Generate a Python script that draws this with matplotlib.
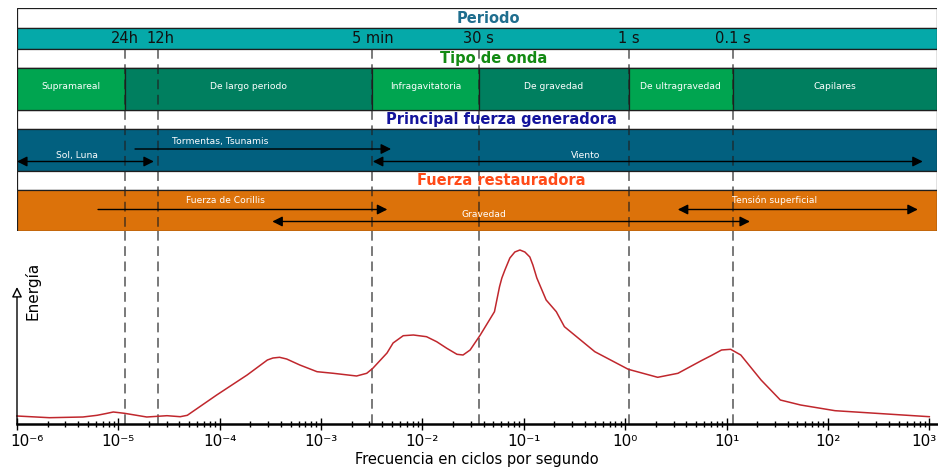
"""
Espectro de energía de las olas del océano con tipos de onda y fuerzas.
"""

import matplotlib.pyplot as plt
import matplotlib.transforms as mtransforms
import numpy as np
from matplotlib.patches import Rectangle
from matplotlib.ticker import FixedLocator, FuncFormatter, LogLocator

plt.switch_backend("Agg")
plt.rcParams["font.family"] = ["DejaVu Sans"]
plt.rcParams["lines.scale_dashes"] = False

# --- data -------------------------------------------------------------
XMIN, XMAX = 1e-6, 1.19e3
decades = [-6, -5, -4, -3, -2, -1, 0, 1, 2, 3]

# vertical reference lines (frequency, Hz) and their period labels
line_freqs = [1.15e-5, 2.45e-5, 3.2e-3, 3.6e-2, 1.09, 11.5]
period_labels = ["24h", "12h", "5 min", "30 s", "1 s", "0.1 s"]

# wave types
wave_types = ["Supramareal", "De largo periodo", "Infragavitatoria",
              "De gravedad", "De ultragravedad", "Capilares"]
wave_edges = [XMIN, 1.15e-5, 3.2e-3, 3.6e-2, 1.09, 11.5, XMAX]
wave_bright = [True, False, True, False, True, False]

# generating forces
gen_labels = ["Sol, Luna", "Tormentas, Tsunamis", "Viento"]
gen_start = [1e-6, 1.46e-5, 3.24e-3]
gen_end = [2.24e-5, 4.9e-3, 861.0]
gen_style = ["<|-|>", "-|>", "<|-|>"]
gen_text_x = [3.9e-6, 1.0e-4, 0.41]
gen_row = [1, 0, 1]

# restoring forces
res_labels = ["Fuerza de Corillis", "Gravedad", "Tensión superficial"]
res_start = [6.3e-6, 3.3e-4, 3.3]
res_end = [4.5e-3, 17.0, 770.0]
res_style = ["-|>", "<|-|>", "<|-|>"]
res_text_x = [1.15e-4, 0.04, 30.0]
res_row = [0, 1, 0]

# energy spectrum (log10 frequency, relative energy)
energy_logf = [-6.00, -5.68, -5.35, -5.21, -5.12, -5.05, -4.94, -4.72,
               -4.52, -4.39, -4.32, -4.03, -3.73, -3.53, -3.475, -3.41,
               -3.34, -3.21, -3.04, -2.88, -2.65, -2.55, -2.49, -2.35,
               -2.29, -2.19, -2.09, -1.96, -1.86, -1.76, -1.66, -1.60,
               -1.53, -1.43, -1.29, -1.24, -1.217, -1.187, -1.138, -1.089,
               -1.039, -0.99, -0.941, -0.911, -0.872, -0.78, -0.68, -0.60,
               -0.30, 0.03, 0.32, 0.52, 0.75, 0.85, 0.95, 1.04,
               1.14, 1.34, 1.53, 1.73, 2.07, 3.00]
energy_vals = [8.0, 6.3, 7.0, 8.7, 10.5, 12.0, 10.7, 7.0,
               8.3, 7.3, 8.7, 29.0, 49.0, 64.0, 66.0, 66.7,
               65.0, 59.0, 52.3, 50.7, 48.0, 50.7, 55.7, 71.0,
               81.0, 88.3, 89.0, 87.3, 82.3, 75.7, 69.7, 69.0,
               74.0, 89.0, 112.3, 137.3, 146.0, 154.0, 166.0, 172.0,
               174.0, 172.0, 167.0, 159.0, 146.0, 124.0, 112.3, 97.3,
               72.3, 54.7, 46.7, 50.7, 63.3, 68.5, 74.0, 74.7,
               69.0, 44.0, 24.0, 19.0, 13.3, 7.3]

# --- layout helpers ---------------------------------------------------
W, H = 938, 469
fig = plt.figure(figsize=(W / 100, H / 100), dpi=100)


def px_axes(x0, y0, x1, y1):
    return fig.add_axes([x0 / W, 1 - y1 / H, (x1 - x0) / W, (y1 - y0) / H])


TEAL = "#05a9a9"
GREEN_B = "#00a550"
GREEN_D = "#007f5f"
BLUE = "#02607f"
ORANGE = "#dc720a"
DASH = dict(color="#202020", alpha=0.7, lw=1.2, ls=(0, (7, 4)))

# --- top banners ------------------------------------------------------
top = px_axes(17, 8, 937, 231)
top.set_xscale("log")
top.set_xlim(XMIN, XMAX)
top.set_ylim(231, 8)
top.axis("off")


def band(y0, y1, color, x0=XMIN, x1=XMAX, z=1):
    top.add_patch(Rectangle((x0, y0), x1 - x0, y1 - y0, facecolor=color,
                            edgecolor="#1e1e1e", lw=0.9, zorder=z))


band(8, 28, "white")
band(28, 49, TEAL)
band(49, 68, "white")
band(68, 110, GREEN_D)
band(110, 129, "white")
band(129, 171, BLUE)
band(171, 190, "white")
band(190, 231, ORANGE)

top.text(10 ** -1.35, 18, "Periodo", color="#1f6e8e", fontsize=10.5,
         fontweight="bold", ha="center", va="center", zorder=5)
top.text(10 ** -1.30, 58.5, "Tipo de onda", color="#138a13", fontsize=10.5,
         fontweight="bold", ha="center", va="center", zorder=5)
top.text(10 ** -1.22, 119.5, "Principal fuerza generadora", color="#14149c",
         fontsize=10.5, fontweight="bold", ha="center", va="center", zorder=5)
top.text(10 ** -1.22, 180.5, "Fuerza restauradora", color="#ff4a18",
         fontsize=10.5, fontweight="bold", ha="center", va="center", zorder=5)

# period labels
for f, lab in zip(line_freqs, period_labels):
    dx = 1.06 if lab == "12h" else 1.0
    top.text(f * dx, 38.5, lab, fontsize=10.5, ha="center", va="center",
             color="#111111", zorder=5)

# wave type segments
for lab, a, b, br in zip(wave_types, wave_edges[:-1], wave_edges[1:], wave_bright):
    band(68, 110, GREEN_B if br else GREEN_D, a, b, z=2)
    top.text(np.sqrt(a * b), 86, lab, color="white", fontsize=6.6,
             ha="center", va="center", zorder=5)

# dashed reference lines across the lower banners
for f in line_freqs:
    top.plot([f, f], [49, 231], zorder=4, **DASH)


def arrow(x0, x1, y, style):
    top.annotate("", xy=(x1, y), xytext=(x0, y), zorder=6,
                 arrowprops=dict(arrowstyle=style, color="black", lw=1.0,
                                 mutation_scale=15, shrinkA=0, shrinkB=0))


gen_y = [149, 161.5]
gen_ty = [141, 155]
for lab, a, b, st, tx, r in zip(gen_labels, gen_start, gen_end, gen_style,
                                gen_text_x, gen_row):
    arrow(a, b, gen_y[r], st)
    top.text(tx, gen_ty[r], lab, color="white", fontsize=6.6, ha="center",
             va="center", zorder=6)

res_y = [209.5, 221.5]
res_ty = [200, 214]
for lab, a, b, st, tx, r in zip(res_labels, res_start, res_end, res_style,
                                res_text_x, res_row):
    arrow(a, b, res_y[r], st)
    top.text(tx, res_ty[r], lab, color="white", fontsize=6.6, ha="center",
             va="center", zorder=6)

# --- energy spectrum --------------------------------------------------
SUP = str.maketrans("-0123456789", "⁻⁰¹²³⁴⁵⁶⁷⁸⁹")


def pow_label(v, _pos):
    return "10" + str(int(round(np.log10(v)))).translate(SUP)


ax = px_axes(17, 231, 937, 424)
ax.set_xscale("log")
ax.set_xlim(XMIN, XMAX)
ax.set_ylim(0, 193)
ax.patch.set_alpha(0)
for s in ["top", "right", "left"]:
    ax.spines[s].set_visible(False)
ax.spines["bottom"].set_linewidth(1.8)
ax.set_yticks([])
ax.xaxis.set_major_locator(FixedLocator([10.0 ** d for d in decades]))
ax.xaxis.set_major_formatter(FuncFormatter(pow_label))
ax.xaxis.set_minor_locator(LogLocator(base=10, subs=np.arange(2, 10), numticks=100))
ax.tick_params(axis="x", which="major", direction="inout", length=8, width=1.0,
               labelsize=11, pad=3)
ax.tick_params(axis="x", which="minor", direction="inout", length=5, width=1.0)
ax.set_xlabel("Frecuencia en ciclos por segundo", fontsize=10.5, labelpad=2)

# keep the end labels inside the canvas
ticks = ax.xaxis.get_major_ticks()
ticks[0].label1.set_horizontalalignment("left")
ticks[0].label1.set_transform(ticks[0].label1.get_transform() +
                              mtransforms.ScaledTranslation(-7 / 100, 0, fig.dpi_scale_trans))
ticks[-1].label1.set_horizontalalignment("right")
ticks[-1].label1.set_transform(ticks[-1].label1.get_transform() +
                               mtransforms.ScaledTranslation(7 / 100, 0, fig.dpi_scale_trans))

for f in line_freqs:
    ax.axvline(f, zorder=1, **DASH)

freqs = [10 ** v for v in energy_logf]
ax.plot(freqs, energy_vals, color="#c0272d", lw=1.1, zorder=3, clip_on=False)

# y axis as an arrow with hollow head
ax.annotate("", xy=(XMIN, 137), xytext=(XMIN, 0), annotation_clip=False,
            arrowprops=dict(arrowstyle="-|>", fc="white", ec="black", lw=1.0,
                            mutation_scale=15, shrinkA=0, shrinkB=0))
fig.text(33 / W, 1 - 291 / H, "Energía", rotation=90, fontsize=11,
         ha="center", va="center")

fig.savefig("out.png", dpi=100)
plt.close(fig)
